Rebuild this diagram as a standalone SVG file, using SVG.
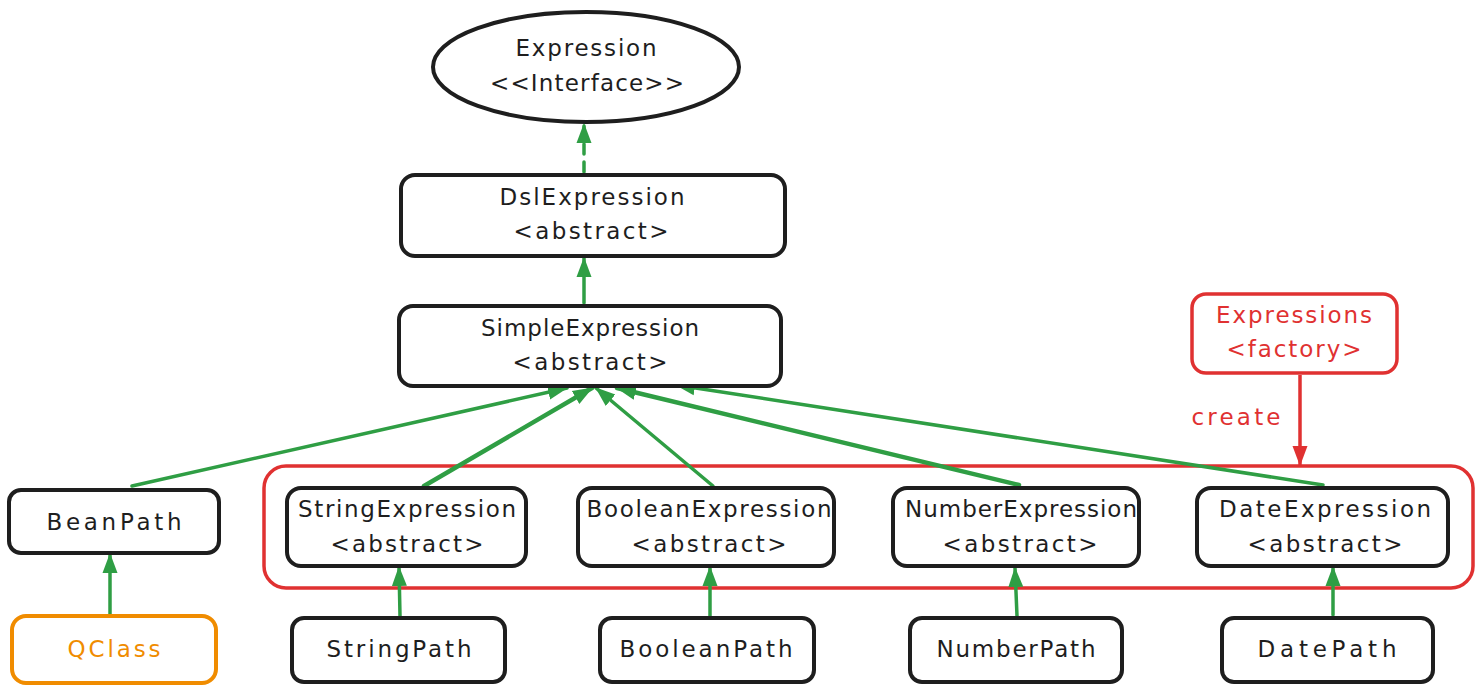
<svg xmlns="http://www.w3.org/2000/svg" width="1482" height="692" viewBox="0 0 1482 692">
<style>
  .bg{fill:#ffffff}
  .box{fill:#ffffff;stroke:#1e1e1e;stroke-width:4}
  .redbox{fill:#ffffff;stroke:#e03131;stroke-width:3.5}
  .orangebox{fill:#ffffff;stroke:#f08c00;stroke-width:4}
  .group{fill:none;stroke:#e03131;stroke-width:3.5}
  .t{font-family:"DejaVu Sans","Liberation Sans",sans-serif;font-size:23px;fill:#1e1e1e;text-anchor:middle}
  .tr{fill:#e03131}
  .to{fill:#f08c00}
  .g{stroke:#2f9e44;stroke-width:3.5;fill:none;stroke-linecap:round}
  .gb{stroke-width:4.5}
  .r{stroke:#e03131;stroke-width:3.5;fill:none}
</style>
<defs>
  <marker id="ag" markerUnits="userSpaceOnUse" markerWidth="22" markerHeight="18" refX="19" refY="9" orient="auto">
    <path d="M0,1.5 L20,9 L0,16.5 z" fill="#2f9e44"/>
  </marker>
  <marker id="ar" markerUnits="userSpaceOnUse" markerWidth="22" markerHeight="18" refX="19" refY="9" orient="auto">
    <path d="M0,1.5 L20,9 L0,16.5 z" fill="#e03131"/>
  </marker>
</defs>
<rect class="bg" x="0" y="0" width="1482" height="692"/>

<g id="group-frame">
  <rect class="group" x="264" y="466" width="1209" height="122" rx="22"/>
</g>

<g id="connectors">
  <line class="g" x1="584" y1="172" x2="584" y2="124" stroke-dasharray="10,8" marker-end="url(#ag)"/>
  <line class="g" x1="584" y1="303" x2="584" y2="258" marker-end="url(#ag)"/>
  <line class="g" x1="132" y1="486" x2="567" y2="388" marker-end="url(#ag)"/>
  <line class="g gb" x1="424" y1="486" x2="592" y2="388" marker-end="url(#ag)"/>
  <line class="g" x1="713" y1="486" x2="596" y2="388" marker-end="url(#ag)"/>
  <line class="g gb" x1="1019" y1="485" x2="617" y2="388" marker-end="url(#ag)"/>
  <line class="g" x1="1323" y1="485" x2="676" y2="385" marker-end="url(#ag)"/>
  <line class="g" x1="110" y1="615" x2="110" y2="554" marker-end="url(#ag)"/>
  <line class="g" x1="400" y1="616" x2="399" y2="567" marker-end="url(#ag)"/>
  <line class="g" x1="710" y1="616" x2="710" y2="567" marker-end="url(#ag)"/>
  <line class="g" x1="1017" y1="616" x2="1015" y2="568" marker-end="url(#ag)"/>
  <line class="g" x1="1333" y1="615" x2="1333" y2="567" marker-end="url(#ag)"/>
  <line class="r" x1="1300" y1="375" x2="1300" y2="465" marker-end="url(#ar)"/>
  <text class="t tr" x="1236" y="425" textLength="89" lengthAdjust="spacing">create</text>
</g>

<g id="node-expression">
  <ellipse cx="586" cy="67" rx="153" ry="55" fill="#ffffff" stroke="#1e1e1e" stroke-width="4"/>
  <text class="t" x="586" y="56" textLength="141" lengthAdjust="spacing">Expression</text>
  <text class="t" x="587" y="91" textLength="194" lengthAdjust="spacing">&lt;&lt;Interface&gt;&gt;</text>
</g>

<g id="node-dslexpression">
  <rect class="box" x="401" y="175" width="384" height="81" rx="14"/>
  <text class="t" x="592" y="205" textLength="185" lengthAdjust="spacing">DslExpression</text>
  <text class="t" x="591" y="239" textLength="155" lengthAdjust="spacing">&lt;abstract&gt;</text>
</g>

<g id="node-simpleexpression">
  <rect class="box" x="399" y="306" width="382" height="80" rx="14"/>
  <text class="t" x="590" y="336" textLength="218" lengthAdjust="spacing">SimpleExpression</text>
  <text class="t" x="590" y="370" textLength="155" lengthAdjust="spacing">&lt;abstract&gt;</text>
</g>

<g id="node-expressions-factory">
  <rect class="redbox" x="1192" y="294" width="205" height="79" rx="14"/>
  <text class="t tr" x="1294" y="323" textLength="156" lengthAdjust="spacing">Expressions</text>
  <text class="t tr" x="1294" y="357" textLength="135" lengthAdjust="spacing">&lt;factory&gt;</text>
</g>

<g id="node-beanpath">
  <rect class="box" x="9" y="490" width="210" height="63" rx="12"/>
  <text class="t" x="114" y="530" textLength="135" lengthAdjust="spacing">BeanPath</text>
</g>

<g id="node-stringexpression">
  <rect class="box" x="287" y="488" width="239" height="78" rx="14"/>
  <text class="t" x="407" y="517" textLength="218" lengthAdjust="spacing">StringExpression</text>
  <text class="t" x="407" y="552" textLength="153" lengthAdjust="spacing">&lt;abstract&gt;</text>
</g>

<g id="node-booleanexpression">
  <rect class="box" x="578" y="488" width="256" height="78" rx="14"/>
  <text class="t" x="709" y="517" textLength="245" lengthAdjust="spacing">BooleanExpression</text>
  <text class="t" x="709" y="552" textLength="155" lengthAdjust="spacing">&lt;abstract&gt;</text>
</g>

<g id="node-numberexpression">
  <rect class="box" x="893" y="488" width="246" height="78" rx="14"/>
  <text class="t" x="1021" y="517" textLength="232" lengthAdjust="spacing">NumberExpression</text>
  <text class="t" x="1020" y="552" textLength="155" lengthAdjust="spacing">&lt;abstract&gt;</text>
</g>

<g id="node-dateexpression">
  <rect class="box" x="1197" y="488" width="251" height="78" rx="14"/>
  <text class="t" x="1325" y="517" textLength="212" lengthAdjust="spacing">DateExpression</text>
  <text class="t" x="1325" y="552" textLength="155" lengthAdjust="spacing">&lt;abstract&gt;</text>
</g>

<g id="node-qclass">
  <rect class="orangebox" x="12" y="616" width="204" height="67" rx="14"/>
  <text class="t to" x="114" y="657" textLength="93" lengthAdjust="spacing">QClass</text>
</g>

<g id="node-stringpath">
  <rect class="box" x="292" y="618" width="213" height="64" rx="12"/>
  <text class="t" x="399" y="657" textLength="145" lengthAdjust="spacing">StringPath</text>
</g>

<g id="node-booleanpath">
  <rect class="box" x="600" y="618" width="214" height="64" rx="12"/>
  <text class="t" x="706" y="657" textLength="173" lengthAdjust="spacing">BooleanPath</text>
</g>

<g id="node-numberpath">
  <rect class="box" x="910" y="618" width="212" height="64" rx="12"/>
  <text class="t" x="1016" y="657" textLength="159" lengthAdjust="spacing">NumberPath</text>
</g>

<g id="node-datepath">
  <rect class="box" x="1222" y="618" width="211" height="64" rx="12"/>
  <text class="t" x="1327" y="657" textLength="139" lengthAdjust="spacing">DatePath</text>
</g>
</svg>
